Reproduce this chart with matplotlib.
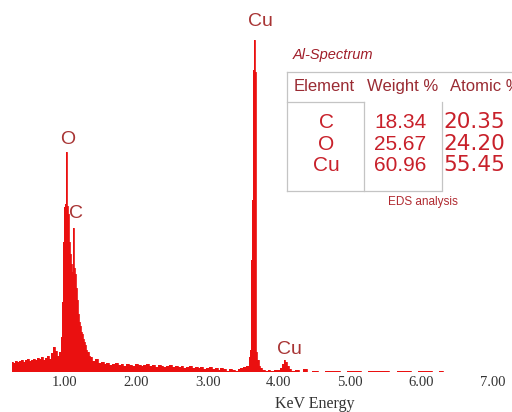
import matplotlib
matplotlib.use("Agg")
import matplotlib.pyplot as plt
from matplotlib.lines import Line2D

# EDS spectrum, energy in keV and counts (arbitrary units)
energy = [
    0.257, 0.285, 0.313, 0.341, 0.369, 0.397, 0.425, 0.453, 0.481, 0.509,
    0.537, 0.565, 0.593, 0.621, 0.649, 0.677, 0.705, 0.733, 0.762, 0.790,
    0.818, 0.846, 0.874, 0.902, 0.930,
    0.944, 0.958, 0.972, 0.986, 1.000, 1.014, 1.028, 1.042, 1.056, 1.070,
    1.084, 1.098, 1.112, 1.126, 1.140, 1.154, 1.168, 1.182, 1.196, 1.210,
    1.224, 1.238, 1.252, 1.266, 1.280, 1.294, 1.308, 1.323, 1.337, 1.351,
    1.40, 1.44, 1.48, 1.52, 1.56, 1.60, 1.64, 1.68, 1.72, 1.76,
    1.80, 1.84, 1.88, 1.92, 1.96, 2.00, 2.04, 2.08, 2.12, 2.16,
    2.20, 2.24, 2.28, 2.32, 2.36, 2.40, 2.44, 2.48, 2.52, 2.56,
    2.60, 2.64, 2.68, 2.72, 2.76, 2.80, 2.84, 2.88, 2.92, 2.96,
    3.00, 3.04, 3.08, 3.12, 3.16, 3.20, 3.24, 3.28, 3.32, 3.36,
    3.40, 3.44, 3.48, 3.52, 3.56,
    3.590, 3.610, 3.620, 3.627, 3.634, 3.648, 3.656, 3.662, 3.676, 3.690,
    3.705, 3.725, 3.750, 3.780, 3.82, 3.86, 3.90, 3.95, 4.00, 4.03,
    4.06, 4.08, 4.10, 4.12, 4.15, 4.20, 4.25, 4.30, 4.37, 4.42,
    4.50, 4.60, 4.70, 4.80, 4.90, 5.00, 5.10, 5.20, 5.30, 5.40,
    5.50, 5.60, 5.70, 5.80, 5.90, 6.00, 6.10, 6.20, 6.30,
]
counts = [
    10, 9, 11, 10, 11, 12, 10, 12, 13, 11,
    12, 13, 12, 14, 13, 15, 12, 14, 16, 13,
    19, 25, 21, 16, 20,
    35, 70, 130, 165, 150, 168, 220, 166, 158, 130,
    118, 108, 100, 144, 104, 98, 84, 72, 58, 50,
    46, 40, 38, 33, 30, 27, 22, 20, 16, 15,
    11, 13, 9, 10, 8, 9, 7, 8, 9, 7,
    8, 6, 8, 7, 6, 8, 7, 6, 7, 8,
    6, 7, 5, 7, 6, 5, 6, 7, 5, 6,
    5, 6, 4, 5, 6, 4, 5, 4, 5, 3,
    4, 5, 3, 4, 2, 4, 3, 1, 3, 2,
    1, 3, 4, 5, 6,
    15, 22, 112, 172, 302, 302, 332, 302, 300, 20,
    12, 6, 4, 2, 1, 2, 1, 2, 2, 4,
    8, 12, 10, 6, 3, 1, 2, 0, 3, 0,
    1, 0, 1, 1, 0, 1, 1, 0, 1, 1,
    1, 0, 1, 1, 0, 1, 1, 0, 1,
]

peak_labels = ["O", "C", "Cu", "Cu"]
peak_label_x = [1.042, 1.154, 3.735, 4.149]
peak_label_y = [232, 158, 351, 23]

xticks = [1, 2, 3, 4, 5, 6, 7]

table_title = "Al-Spectrum"
table_columns = ["Element", "Weight %", "Atomic %"]
elements = ["C", "O", "Cu"]
weight_pct = [18.34, 25.67, 60.96]
atomic_pct = [20.35, 24.20, 55.45]
table_caption = "EDS analysis"

W, H = 512, 412
RED = "#ea1010"
LABEL_RED = "#a83434"
HEAD_RED = "#9a2b33"
VALUE_RED = "#c8202a"


def fx(x):
    return x / W


def fy(y):
    return 1 - y / H


fig = plt.figure(figsize=(W / 100, H / 100), dpi=100)
ax = fig.add_axes([0, 40 / H, 1, 372 / H])

ax.fill_between(energy, counts, step="mid", color=RED, lw=0)
ax.step(energy, counts, where="mid", color=RED, lw=0.6)

for label, x, y in zip(peak_labels, peak_label_x, peak_label_y):
    ax.text(x, y, label, ha="center", va="center", fontsize=14,
            family="Liberation Sans", color=LABEL_RED)

ax.set_xlim(0.0884, 7.269)
ax.set_ylim(0, 372)
ax.set_yticks([])
ax.set_xticks(xticks)
ax.set_xticklabels([f"{t:.2f}" for t in xticks], family="Liberation Serif",
                   fontsize=10.5, color="#333333")
ax.tick_params(axis="x", length=0, pad=3)
ax.set_xlabel("KeV Energy", family="Liberation Serif", fontsize=11.5, color="#333333")
ax.xaxis.set_label_coords(315 / W, -24 / 372)
for side in ax.spines.values():
    side.set_visible(False)

# EDS result table
fig.text(fx(293), fy(55), table_title, ha="left", va="center", fontsize=10.5,
         style="italic", family="Liberation Sans", color="#a01e2a")

grid = [
    ((287, 512), (72, 72)),
    ((287, 287), (72, 191)),
    ((287, 364), (102, 102)),
    ((364, 364), (102, 191)),
    ((442, 442), (102, 190)),
    ((287, 442), (191, 191)),
]
for xs, ys in grid:
    fig.add_artist(Line2D([fx(v) for v in xs], [fy(v) for v in ys],
                          transform=fig.transFigure, color="#c4c4c4", lw=0.9))

head = dict(va="baseline", fontsize=12, family="Liberation Sans", color=HEAD_RED)
fig.text(fx(324), fy(91), table_columns[0], ha="center", **head)
fig.text(fx(403), fy(91), table_columns[1], ha="center", **head)
fig.text(fx(450), fy(91), table_columns[2], ha="left", **head)

baselines = [128, 149.5, 171]
for el, w, a, yb in zip(elements, weight_pct, atomic_pct, baselines):
    fig.text(fx(326), fy(yb), el, ha="center", va="baseline", fontsize=15,
             family="Liberation Sans", color=VALUE_RED)
    fig.text(fx(400), fy(yb), f"{w:.2f}", ha="center", va="baseline", fontsize=15,
             family="Liberation Sans", color=VALUE_RED)
    fig.text(fx(443), fy(yb), f"{a:.2f}", ha="left", va="baseline", fontsize=15.5,
             family="DejaVu Sans", color=VALUE_RED)

fig.text(fx(423), fy(202), table_caption, ha="center", va="center", fontsize=8.5,
         family="Liberation Sans", color="#b02a30")

fig.savefig("out.png", dpi=100)
